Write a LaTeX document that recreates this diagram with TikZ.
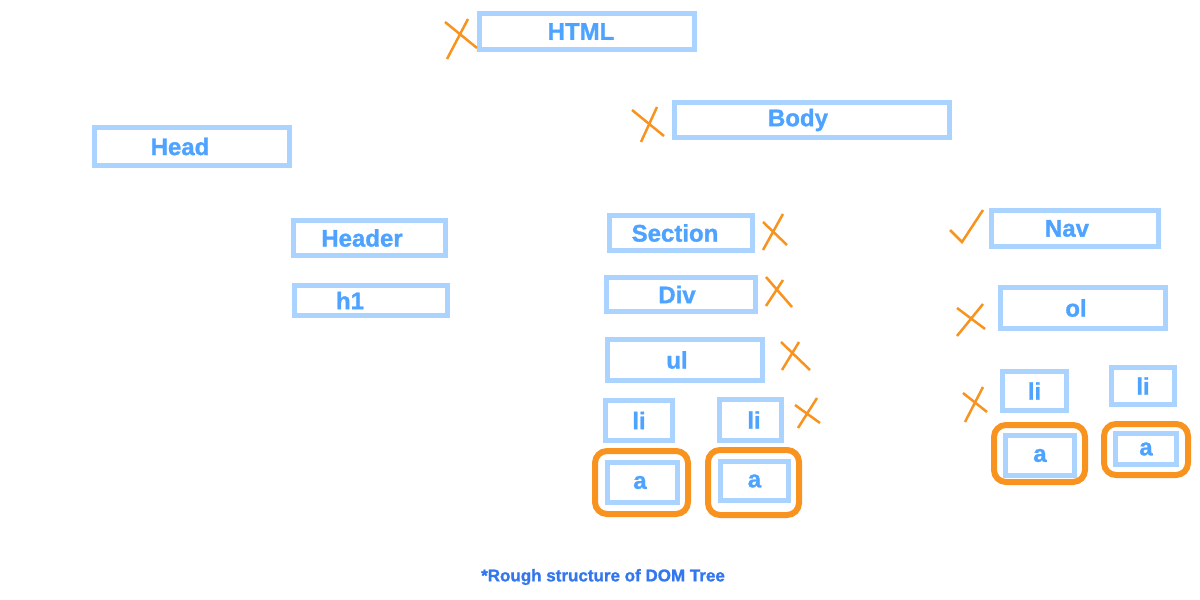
\documentclass[tikz,border=0pt]{standalone}
\usepackage{fontspec}
\setmainfont{Liberation Sans}[BoldFeatures={FakeBold=1.2}]
\definecolor{boxblue}{HTML}{AAD4FF}
\definecolor{tagblue}{HTML}{4DA3FF}
\definecolor{noteblue}{HTML}{3377EE}
\definecolor{markorange}{HTML}{F7931E}
\tikzset{
  tag/.style={draw=boxblue, line width=5pt, inner sep=0pt, text=tagblue,
    font=\fontsize{24}{28}\selectfont\bfseries},
  ring/.style={draw=markorange, line width=6pt, rounded corners=12pt},
  cross/.style={draw=markorange, line width=2.5pt},
}
\newcommand{\lpad}[2]{#2\hspace*{#1pt}}

\begin{document}
\begin{tikzpicture}[x=1pt, y=-1pt]
\useasboundingbox (0,0) rectangle (1200,600);

\node[tag, minimum width=215, minimum height=36] (html) at (587,31.5) {\lpad{12}{HTML}};
\node[tag, minimum width=195, minimum height=38] (head) at (192,146.5) {\lpad{24}{Head}};
\node[tag, minimum width=275, minimum height=35] (body) at (812,120) {\lpad{28}{Body}};

\node[tag, minimum width=152, minimum height=35] (header) at (369.5,238) {\lpad{15}{Header}};
\node[tag, minimum width=153, minimum height=30] (h1) at (371,300.5) {\lpad{42}{h1}};

\node[tag, minimum width=143, minimum height=35] (section) at (681,233) {\lpad{12}{Section}};
\node[tag, minimum width=149, minimum height=34] (div) at (681,294.5) {\lpad{8}{Div}};
\node[tag, minimum width=155, minimum height=41] (ul) at (685,360) {\lpad{16}{ul}};
\node[tag, minimum width=67, minimum height=40] (li1) at (639,420.5) {li};
\node[tag, minimum width=62, minimum height=41] (li2) at (750.5,420) {\hspace*{7pt}li};
\node[tag, minimum width=70, minimum height=40] (a1) at (642.5,482.5) {\lpad{5}{a}};
\node[tag, minimum width=68, minimum height=39] (a2) at (754.5,481) {a};

\node[tag, minimum width=167, minimum height=36] (nav) at (1075,228.5) {\lpad{16}{Nav}};
\node[tag, minimum width=165, minimum height=41] (ol) at (1083,308) {\lpad{14}{ol}};
\node[tag, minimum width=64, minimum height=39] (li3) at (1034.5,391) {li};
\node[tag, minimum width=63, minimum height=37] (li4) at (1143,386) {li};
\node[tag, minimum width=69, minimum height=40] (a3) at (1040,455.5) {a};
\node[tag, minimum width=61, minimum height=31] (a4) at (1146,449) {a};

\draw[ring] (595,451) rectangle (688,514);
\draw[ring] (708,450) rectangle (799,515);
\draw[ring] (994,425) rectangle (1085,482);
\draw[ring] (1104,424) rectangle (1188,475);

\draw[cross] (445,22) -- (477,48) (468,19) -- (447,59);
\draw[cross] (632,110) -- (664,136) (657,107) -- (641,142);
\draw[cross] (763,222) -- (787,245) (783,214) -- (763,250);
\draw[cross] (766,277) -- (792,307) (783,280) -- (766,306);
\draw[cross] (781,342) -- (810,370) (799,342) -- (782,370);
\draw[cross] (795,405) -- (820,423) (817,398) -- (798,428);
\draw[cross] (957,308) -- (985,329) (983,304) -- (957,336);
\draw[cross] (963,393) -- (987,412) (983,387) -- (965,422);
\draw[cross] (950,230) -- (962,242) -- (983,210);

\node[text=noteblue, font=\fontsize{17}{20}\selectfont\bfseries] (note) at (603,577)
  {*Rough structure of DOM Tree};
\end{tikzpicture}
\end{document}
